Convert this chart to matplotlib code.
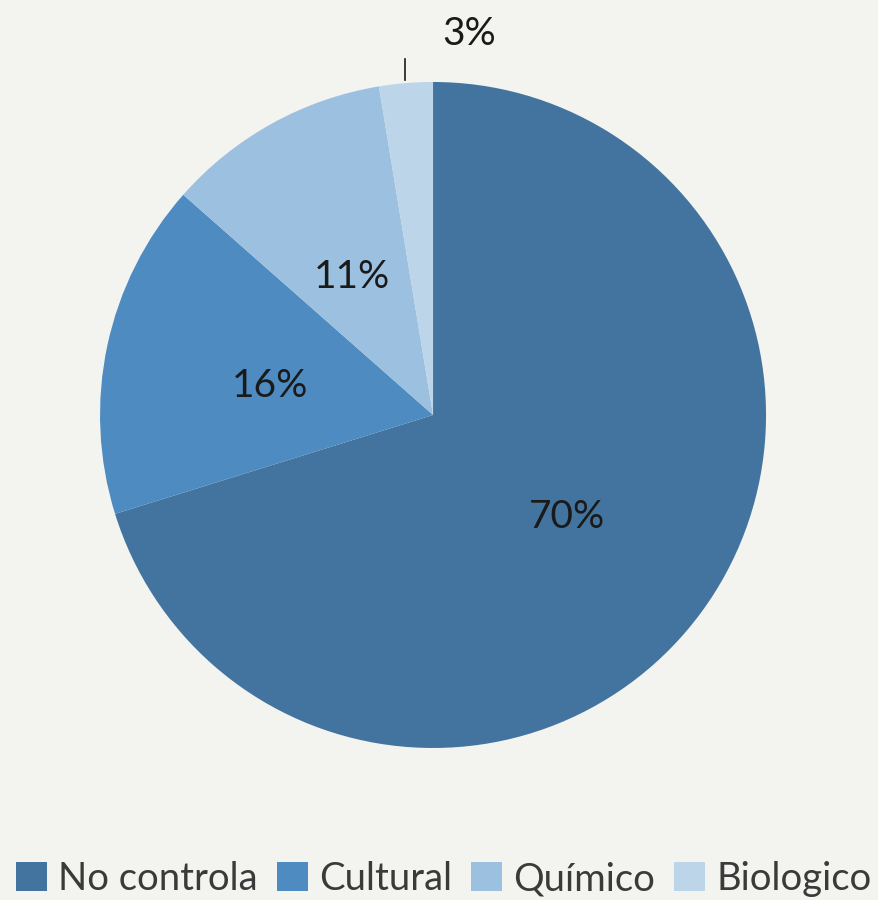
import matplotlib
matplotlib.use("Agg")
import matplotlib.pyplot as plt
from matplotlib.patches import Patch
import numpy as np

categories = ["No controla", "Cultural", "Químico", "Biologico"]
values = [70.2, 16.3, 10.9, 2.6]
labels = ["70%", "16%", "11%", "3%"]
colors = ["#43749f", "#4d8bc0", "#9bc0e0", "#bcd5e8"]

plt.rcParams['font.family'] = ['Lato', 'DejaVu Sans']

fig = plt.figure(figsize=(8.79, 9.0), dpi=100, facecolor="#f3f3ef")
ax = fig.add_axes([0.1138, 0.1689, 0.7577, 0.74])
ax.set_facecolor("none")
wedges, _ = ax.pie(values, colors=colors, startangle=90, counterclock=False,
                   radius=1.0, wedgeprops=dict(linewidth=0))
ax.set_xlim(-1, 1)
ax.set_ylim(-1, 1)
ax.set_aspect('equal')

cum = np.cumsum([0] + values[:-1])
for i, (v, lab) in enumerate(zip(values, labels)):
    if i < 3:
        mid = np.deg2rad(90 - (cum[i] + v / 2) / sum(values) * 360)
        ax.text(0.5 * np.cos(mid), 0.49 * np.sin(mid) - 0.015, lab, ha='center', va='center',
                fontsize=28, color='#1a1a1a')
    else:
        ax.plot([-0.084, -0.084], [1.005, 1.07], color='#1a1a1a', lw=1.2, clip_on=False)
        ax.text(0.11, 1.145, lab, ha='center', va='center', fontsize=28,
                color='#1a1a1a', clip_on=False)

handles = [Patch(facecolor=c, edgecolor='none') for c in colors]
fig.legend(handles, categories, loc='lower center', bbox_to_anchor=(0.505, -0.035), ncol=4,
           frameon=False, fontsize=27.5, handlelength=0.8, handleheight=0.8,
           handletextpad=0.3, columnspacing=0.5, labelcolor='#3a3a3a')

fig.savefig("out.png", dpi=100, facecolor=fig.get_facecolor())
